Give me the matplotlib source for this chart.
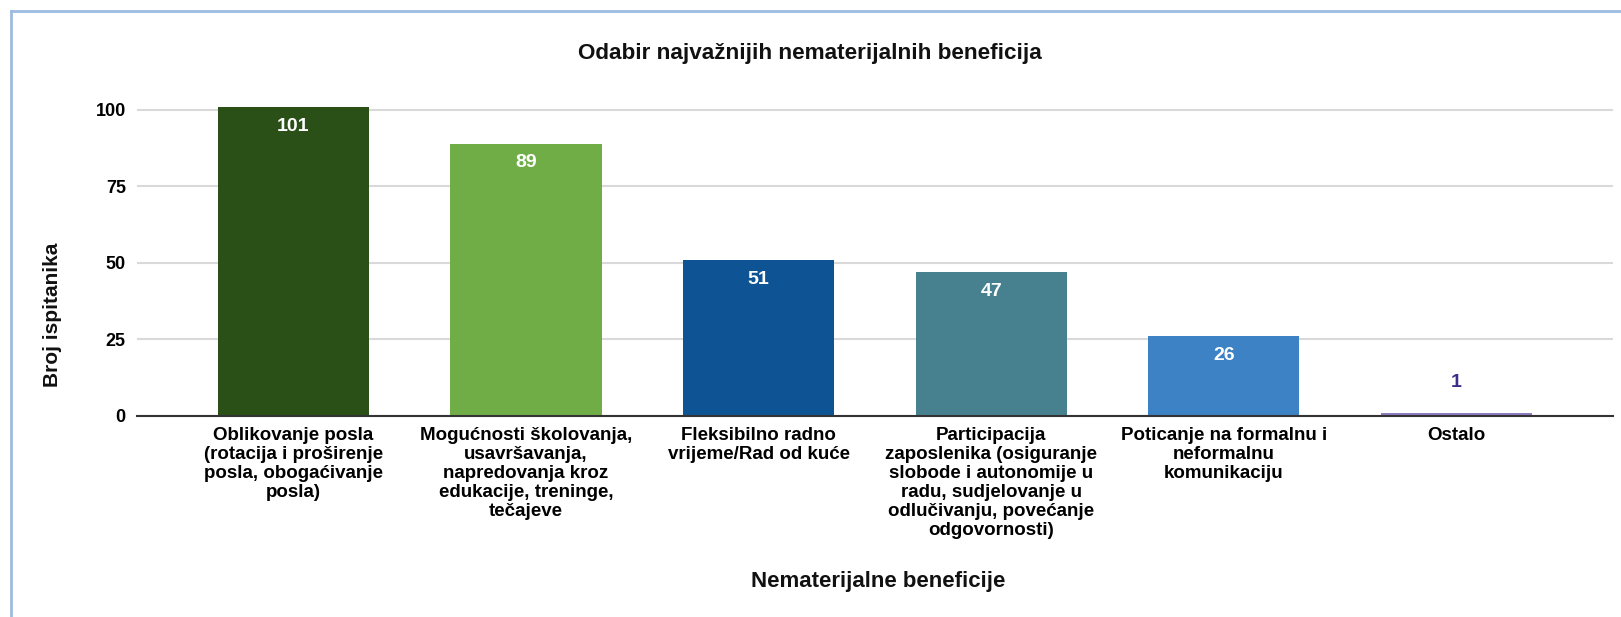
import matplotlib
matplotlib.use("Agg")
import matplotlib.pyplot as plt

plt.rcParams["font.family"] = ["Liberation Sans", "DejaVu Sans"]
plt.rcParams["font.weight"] = "bold"

categories = [
    "Oblikovanje posla\n(rotacija i proširenje\nposla, obogaćivanje\nposla)",
    "Mogućnosti školovanja,\nusavršavanja,\nnapredovanja kroz\nedukacije, treninge,\ntečajeve",
    "Fleksibilno radno\nvrijeme/Rad od kuće",
    "Participacija\nzaposlenika (osiguranje\nslobode i autonomije u\nradu, sudjelovanje u\nodlučivanju, povećanje\nodgovornosti)",
    "Poticanje na formalnu i\nneformalnu\nkomunikaciju",
    "Ostalo",
]
counts = [101, 89, 51, 47, 26, 1]
bar_colors = ["#2a5017", "#70ad47", "#0e5494", "#47818f", "#3d82c5", "#8e7cc3"]
yticks = [0, 25, 50, 75, 100]

fig = plt.figure(figsize=(16.21, 6.17), dpi=100)
ax = fig.add_axes([0.0845, 0.3263, 0.9105, 0.5055])

x = range(len(categories))
bars = ax.bar(x, counts, width=0.65, color=bar_colors, zorder=3)

# values inside the tall bars, above the tiny one
for xi, v in zip(x, counts):
    if v >= 10:
        ax.annotate(str(v), (xi, v), xytext=(0, -14), textcoords="offset points",
                    ha="center", va="center", color="white", fontsize=14,
                    fontweight="bold", zorder=4)
    else:
        ax.annotate(str(v), (xi, v), xytext=(0, 22), textcoords="offset points",
                    ha="center", va="center", color="#3c2d8a", fontsize=14,
                    fontweight="bold", zorder=4)

ax.set_xlim(-0.673, len(categories) - 1 + 0.673)
ax.set_ylim(0, 102)
ax.set_yticks(yticks)
ax.set_yticklabels([str(t) for t in yticks], fontsize=13, fontweight="bold")
ax.set_xticks(list(x))
ax.set_xticklabels(categories, fontsize=13.5, fontweight="bold", linespacing=1.16)
ax.tick_params(axis="both", length=0)
ax.tick_params(axis="y", pad=8)
ax.tick_params(axis="x", pad=8)

ax.grid(axis="y", color="#d9d9d9", linewidth=1.5, zorder=0)
for side in ["top", "right", "left"]:
    ax.spines[side].set_visible(False)
ax.spines["bottom"].set_color("#333333")
ax.spines["bottom"].set_linewidth(1.5)
ax.spines["bottom"].set_zorder(5)

fig.text(810 / 1621, 1 - 54 / 617, "Odabir najvažnijih nematerijalnih beneficija",
         ha="center", va="center", fontsize=16.2, fontweight="bold", color="#111111")
fig.text(52 / 1621, 1 - 315 / 617, "Broj ispitanika", rotation=90,
         ha="center", va="center", fontsize=15, fontweight="bold", color="#111111")
fig.text(878 / 1621, 1 - 582 / 617, "Nematerijalne beneficije",
         ha="center", va="center", fontsize=16, fontweight="bold", color="#111111")

# outer frame: only left and top edges show
fig.add_artist(plt.Line2D([10.5 / 1621, 10.5 / 1621], [0, 1 - 10.5 / 617],
                          transform=fig.transFigure, color="#9dbbe0", linewidth=2))
fig.add_artist(plt.Line2D([10.5 / 1621, 1], [1 - 10.5 / 617, 1 - 10.5 / 617],
                          transform=fig.transFigure, color="#9dbbe0", linewidth=2))

fig.savefig("out.png", dpi=100, facecolor="white")
